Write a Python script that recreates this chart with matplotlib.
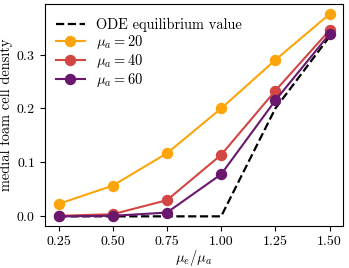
import matplotlib
matplotlib.use("Agg")
import matplotlib.pyplot as plt

plt.rcParams['font.family'] = 'serif'
plt.rcParams['font.serif'] = ['cmr10']
plt.rcParams['mathtext.fontset'] = 'cm'
plt.rcParams['axes.formatter.use_mathtext'] = True
plt.rcParams['font.size'] = 10.4

ratio = [0.25, 0.50, 0.75, 1.00, 1.25, 1.50]
ode = [0.0, 0.0, 0.0, 0.0, 0.2, 0.3333]
mu20 = [0.023, 0.057, 0.117, 0.200, 0.290, 0.375]
mu40 = [0.001, 0.004, 0.030, 0.114, 0.233, 0.345]
mu60 = [0.000, 0.001, 0.007, 0.078, 0.215, 0.338]

fig, ax = plt.subplots(figsize=(3.49, 2.68), dpi=100)

ax.plot(ratio, ode, '--', color='black', lw=1.6, label='ODE equilibrium value')
ax.plot(ratio, mu20, 'o-', color='#fca50a', lw=1.5, ms=7.2, label=r'$\mu_a = 20$')
ax.plot(ratio, mu40, 'o-', color='#d24644', lw=1.5, ms=7.2, label=r'$\mu_a = 40$')
ax.plot(ratio, mu60, 'o-', color='#6a176e', lw=1.5, ms=7.2, label=r'$\mu_a = 60$')

ax.set_xticks(ratio)
ax.set_xticklabels(['0.25', '0.50', '0.75', '1.00', '1.25', '1.50'])
ax.set_yticks([0.0, 0.1, 0.2, 0.3])
ax.tick_params(labelsize=10)
ax.set_xlabel(r'$\mu_e/\mu_a$', labelpad=0)
ax.set_ylabel('medial foam cell density', labelpad=2)
ax.legend(loc='upper left', bbox_to_anchor=(0.0, 0.985), frameon=False,
          labelspacing=0.05, borderaxespad=0.35)

fig.subplots_adjust(left=0.129, right=0.983, top=0.985, bottom=0.155)
fig.savefig('out.png', dpi=100)
